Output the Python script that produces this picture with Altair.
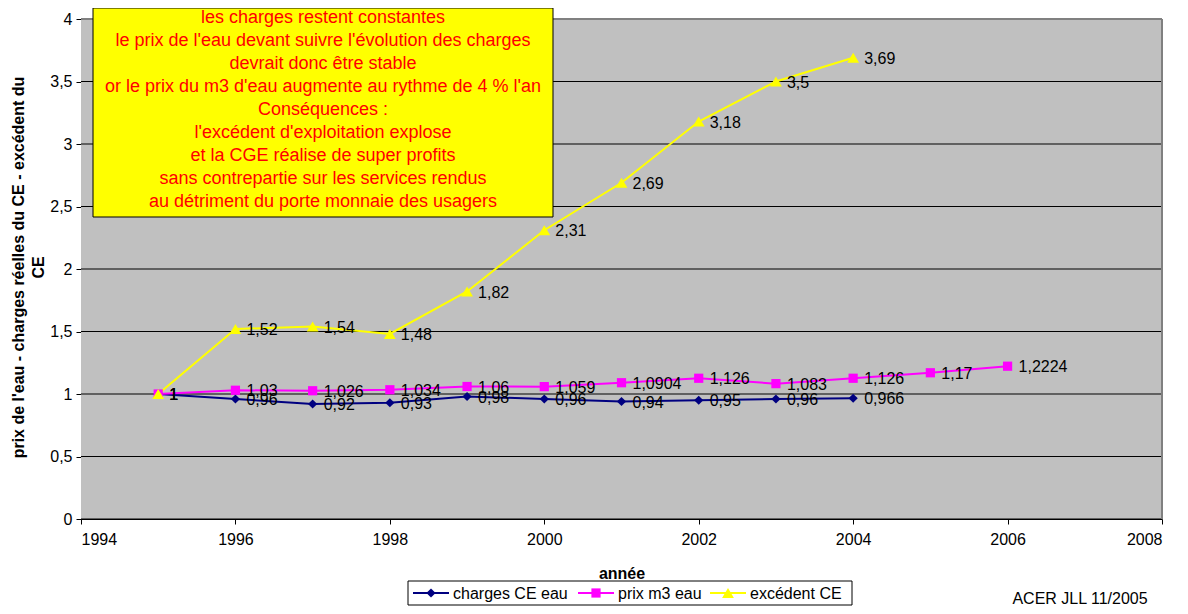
import altair as alt
import pandas as pd

FONT = "Liberation Sans"

series = ["charges CE eau", "prix m3 eau", "excédent CE"]
colors = ["#000080", "#FF00FF", "#FFFF00"]

years_charges = [1995, 1996, 1997, 1998, 1999, 2000, 2001, 2002, 2003, 2004]
charges = [1, 0.96, 0.92, 0.93, 0.98, 0.96, 0.94, 0.95, 0.96, 0.966]

years_prix = [1995, 1996, 1997, 1998, 1999, 2000, 2001, 2002, 2003, 2004, 2005, 2006]
prix = [1, 1.03, 1.026, 1.034, 1.06, 1.059, 1.0904, 1.126, 1.083, 1.126, 1.17, 1.2224]

years_excedent = [1995, 1996, 1997, 1998, 1999, 2000, 2001, 2002, 2003, 2004]
excedent = [1, 1.52, 1.54, 1.48, 1.82, 2.31, 2.69, 3.18, 3.5, 3.69]

x_ticks = [1994, 1996, 1998, 2000, 2002, 2004, 2006, 2008]
y_ticks = [0, 0.5, 1, 1.5, 2, 2.5, 3, 3.5, 4]

note_lines = [
    "les charges restent constantes",
    "le prix de l'eau devant suivre l'évolution des charges",
    "devrait donc être stable",
    "or le prix du m3 d'eau augmente au rythme de 4 % l'an",
    "Conséquences :",
    "l'excédent d'exploitation explose",
    "et la CGE réalise de super profits",
    "sans contrepartie sur les services rendus",
    "au détriment du porte monnaie des usagers",
]
credit = "ACER JLL 11/2005"

rows = []
for name, ys, vs in [(series[0], years_charges, charges),
                     (series[1], years_prix, prix),
                     (series[2], years_excedent, excedent)]:
    for y, v in zip(ys, vs):
        rows.append({"annee": y, "valeur": v, "serie": name,
                     "label": f"{v:g}".replace(".", ",")})
df = pd.DataFrame(rows)
grid_df = pd.DataFrame({"valeur": y_ticks})
one = pd.DataFrame({"k": [0]})

W, H = 1081, 500

x_scale = alt.Scale(domain=[1994, 2008], nice=False, zero=False)
y_scale = alt.Scale(domain=[0, 4], nice=False)

x_enc = alt.X("annee:Q", scale=x_scale,
              axis=alt.Axis(values=x_ticks, format="d", title="année",
                            grid=False, titleY=54, titleBaseline="middle",
                            labelPadding=7))
y_enc = alt.Y("valeur:Q", scale=y_scale,
              axis=alt.Axis(values=y_ticks, format="~g",
                            labelExpr="replace(datum.label, '.', ',')",
                            title=["prix de l'eau - charges réelles du CE - excédent du", "CE"],
                            grid=False, titleX=-55, titleY=248,
                            titleBaseline="bottom", titleLineHeight=20,
                            labelPadding=4))

# plot background and frame
bg = alt.Chart(one).mark_rect(fill="#C0C0C0").encode(
    x=alt.value(0), x2=alt.value(W), y=alt.value(0), y2=alt.value(H))
frame_top = alt.Chart(one).mark_rule(color="#808080", strokeWidth=2).encode(
    x=alt.value(0), x2=alt.value(W), y=alt.value(0))
frame_right = alt.Chart(one).mark_rule(color="#808080", strokeWidth=2).encode(
    x=alt.value(W), y=alt.value(0), y2=alt.value(H))

grid = alt.Chart(grid_df).mark_rule(color="#000000", strokeWidth=1).encode(
    y=alt.Y("valeur:Q", scale=y_scale), x=alt.value(0), x2=alt.value(W))

base = alt.Chart(df)

lines = base.mark_line(strokeWidth=2).encode(
    x=x_enc, y=y_enc,
    color=alt.Color("serie:N", scale=alt.Scale(domain=series, range=colors), legend=None),
    order="annee:Q",
)

shapes = ["diamond", "square", "triangle-up"]
sizes = [85, 85, 140]
point_layers = []
for s, c, sh, sz in zip(series, colors, shapes, sizes):
    point_layers.append(
        base.transform_filter(alt.datum.serie == s)
        .mark_point(filled=True, shape=sh, size=sz, color=c, opacity=1)
        .encode(x="annee:Q", y="valeur:Q")
    )

labels = base.mark_text(align="left", baseline="middle", dx=11, dy=1,
                        fontSize=16, font=FONT, color="black").encode(
    x="annee:Q", y="valeur:Q", text="label:N")

# annotation box
box = alt.Chart(one).mark_rect(
    fill="#FFFF00", stroke="#000000", strokeWidth=1).encode(
    x=alt.value(12), x2=alt.value(472), y=alt.value(-11), y2=alt.value(198))
box_text = alt.Chart(one).mark_text(
    align="center", baseline="middle", fontSize=18, font=FONT,
    color="#FF0000", lineHeight=23).encode(
    x=alt.value(242), y=alt.value(-1), text=alt.value(note_lines))

credit_text = alt.Chart(one).mark_text(
    align="center", baseline="middle", fontSize=16, font=FONT, color="black").encode(
    x=alt.value(999), y=alt.value(580), text=alt.value(credit))

# legend (drawn as decoration below the plot)
LEG_Y = 574
leg_box = alt.Chart(one).mark_rect(
    fill="white", stroke="black", strokeWidth=1).encode(
    x=alt.value(327), x2=alt.value(771), y=alt.value(562), y2=alt.value(586))
legend_layers = [leg_box]
leg_line_x = [332, 497, 629]
leg_line_len = 36
for s, c, sh, sz, lx in zip(series, colors, shapes, sizes, leg_line_x):
    legend_layers.append(alt.Chart(one).mark_rule(color=c, strokeWidth=2).encode(
        x=alt.value(lx), x2=alt.value(lx + leg_line_len), y=alt.value(LEG_Y)))
    legend_layers.append(alt.Chart(one).mark_point(
        filled=True, shape=sh, size=sz, color=c, opacity=1).encode(
        x=alt.value(lx + leg_line_len / 2), y=alt.value(LEG_Y)))
    legend_layers.append(alt.Chart(one).mark_text(
        align="left", baseline="middle", fontSize=16, font=FONT, color="black").encode(
        x=alt.value(lx + leg_line_len + 4), y=alt.value(LEG_Y + 1), text=alt.value(s)))

chart = alt.layer(
    bg, grid, frame_top, frame_right, lines, *point_layers, labels,
    box, box_text, credit_text, *legend_layers
).properties(
    width=W, height=H,
    autosize=alt.AutoSizeParams(type="none"),
    padding={"left": 73, "top": 11, "right": 18, "bottom": 87},
    background="white",
).configure_view(
    stroke=None,
).configure_axis(
    labelFont=FONT, labelFontSize=16, labelColor="black",
    titleFont=FONT, titleFontSize=16, titleFontWeight="bold", titleColor="black",
    domainColor="black", tickColor="black", tickSize=5,
)

chart.save("out.html", embed_options={"renderer": "svg", "actions": False})
